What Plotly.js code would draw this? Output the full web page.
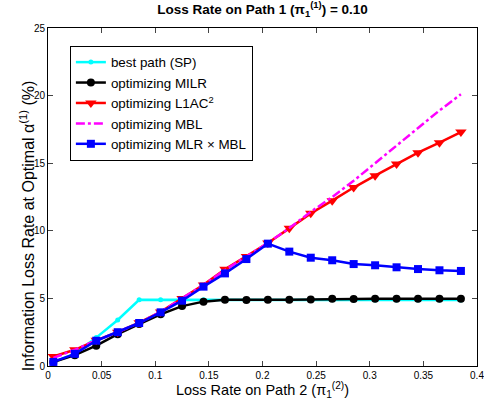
<!DOCTYPE html>
<html><head><meta charset="utf-8">
<script src="https://cdn.plot.ly/plotly-3.0.1.min.js"></script>
<style>html,body{margin:0;padding:0;background:#fff}#chart{width:484px;height:400px}</style>
</head><body><div id="chart"></div>
<script>
const lossPath2 = [0.005,0.025,0.045,0.065,0.085,0.105,0.125,0.145,0.165,0.185,0.205,0.225,0.245,0.265,0.285,0.305,0.325,0.345,0.365,0.385];
const bestPathSP = [0.3,0.9,2.1,3.4,4.9,4.9,4.9,4.9,4.9,4.9,4.9,4.9,4.9,4.9,4.88,4.88,4.88,4.88,4.88,4.88];
const optMILR = [0.3,0.8,1.5,2.35,3.1,3.82,4.43,4.76,4.9,4.88,4.9,4.9,4.92,4.98,4.95,4.97,4.97,4.97,4.97,4.97];
const optL1AC2 = [0.7,1.2,1.9,2.5,3.2,4.0,5.0,6.0,7.15,8.1,9.1,10.18,11.29,12.23,13.2,14.08,14.94,15.78,16.52,17.3];
const optMBL = [0.6,1.2,1.9,2.5,3.2,4.0,5.0,6.0,7.1,8.1,9.1,10.2,11.4,12.5,13.7,15.0,16.3,17.6,18.9,20.1];
const optMLRxMBL = [0.3,0.9,1.87,2.5,3.18,3.97,4.83,5.87,6.85,7.91,9.05,8.46,8.01,7.82,7.54,7.45,7.3,7.17,7.08,7.03];
const seriesNames = ['best path (SP)','optimizing MILR','optimizing L1AC<sup>2</sup>','optimizing MBL','optimizing MLR × MBL'];
const xTicks = [0,0.05,0.1,0.15,0.2,0.25,0.3,0.35,0.4];
const yTicks = [0,5,10,15,20,25];

const traces = [
  {x: lossPath2, y: bestPathSP, name: seriesNames[0], mode: 'lines+markers',
   line: {color: '#00ffff', width: 2.5}, marker: {symbol: 'circle', size: 5, color: '#00ffff'}},
  {x: lossPath2, y: optMILR, name: seriesNames[1], mode: 'lines+markers',
   line: {color: '#000000', width: 2.5}, marker: {symbol: 'circle', size: 8, color: '#000000'}},
  {x: lossPath2, y: optL1AC2, name: seriesNames[2], mode: 'lines+markers',
   line: {color: '#ff0000', width: 2.5}, marker: {symbol: 'triangle-down', size: 10, color: '#ff0000'}},
  {x: lossPath2, y: optMBL, name: seriesNames[3], mode: 'lines',
   line: {color: '#ff00ff', width: 2.5, dash: 'dashdot'}},
  {x: lossPath2, y: optMLRxMBL, name: seriesNames[4], mode: 'lines+markers',
   line: {color: '#0000ff', width: 2.5}, marker: {symbol: 'square', size: 8, color: '#0000ff'}}
];

const fontFam = 'Liberation Sans, Arial, Helvetica, sans-serif';
const layout = {
  width: 484, height: 400,
  margin: {l: 48, r: 7, t: 28, b: 34},
  paper_bgcolor: '#fff', plot_bgcolor: '#fff',
  font: {family: fontFam, size: 10, color: '#000'},
  title: {text: '<b>Loss Rate on Path 1 (π<sub>1</sub><sup>(1)</sup>) = 0.10</b>',
          x: 0.5425, xanchor: 'center', y: 0.977, yanchor: 'middle', font: {size: 13.5, family: fontFam}},
  xaxis: {range: [0, 0.4], tickvals: xTicks, ticktext: xTicks.map(String), ticks: 'inside', ticklen: 5,
          showline: true, linecolor: '#000', linewidth: 1, mirror: 'ticks', showgrid: false, zeroline: false,
          tickfont: {size: 10}, ticklabeloverflow: 'allow',
          title: {text: 'Loss Rate on Path 2 (π<sub>1</sub><sup>(2)</sup>)', font: {size: 14.5}, standoff: 0}},
  yaxis: {range: [0, 25], tickvals: yTicks, ticks: 'inside', ticklen: 5,
          showline: true, linecolor: '#000', linewidth: 1, mirror: 'ticks', showgrid: false, zeroline: false,
          tickfont: {size: 10}, ticklabeloverflow: 'allow'},
  annotations: [{text: 'Information Loss Rate at Optimal α<sup>(1)</sup> (%)', textangle: -90,
                 xref: 'paper', yref: 'paper', x: -0.05, y: 0.415, xanchor: 'center', yanchor: 'middle',
                 showarrow: false, font: {size: 16, family: fontFam, color: '#000'}}],
  showlegend: true,
  legend: {x: 0.051, y: 0.947, xanchor: 'left', yanchor: 'top', bgcolor: '#fff', bordercolor: '#000', borderwidth: 1,
           font: {size: 13.4, family: fontFam}, tracegroupgap: 0, itemwidth: 30}
};
Plotly.newPlot('chart', traces, layout, {displayModeBar: false, staticPlot: true});
</script></body></html>
